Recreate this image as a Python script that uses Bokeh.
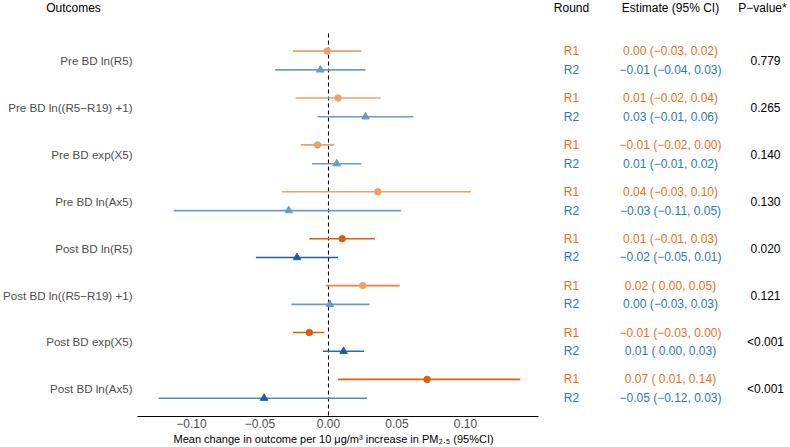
from bokeh.plotting import figure
from bokeh.models import Range1d, FixedTicker, ColumnDataSource, Title
from bokeh.core.properties import value
from bokeh.embed import file_html
from bokeh.resources import INLINE

# ---------------- data ----------------
outcomes = ["Pre BD ln(R5)", "Pre BD ln((R5\u2212R19) +1)", "Pre BD exp(X5)", "Pre BD ln(Ax5)",
            "Post BD ln(R5)", "Post BD ln((R5\u2212R19) +1)", "Post BD exp(X5)", "Post BD ln(Ax5)"]
r1_est = [-0.001, 0.007, -0.008, 0.036, 0.010, 0.025, -0.014, 0.072]
r1_lo = [-0.026, -0.024, -0.020, -0.034, -0.014, -0.002, -0.026, 0.007]
r1_hi = [0.024, 0.038, 0.004, 0.104, 0.034, 0.052, -0.003, 0.140]
r2_est = [-0.006, 0.027, 0.006, -0.029, -0.023, 0.001, 0.011, -0.047]
r2_lo = [-0.039, -0.008, -0.012, -0.113, -0.053, -0.027, -0.004, -0.124]
r2_hi = [0.027, 0.062, 0.024, 0.053, 0.007, 0.030, 0.026, 0.028]
r1_text = ["0.00 (\u22120.03, 0.02)", "0.01 (\u22120.02, 0.04)", "\u22120.01 (\u22120.02, 0.00)",
           "0.04 (\u22120.03, 0.10)", "0.01 (\u22120.01, 0.03)", "0.02 ( 0.00, 0.05)",
           "\u22120.01 (\u22120.03, 0.00)", "0.07 ( 0.01, 0.14)"]
r2_text = ["\u22120.01 (\u22120.04, 0.03)", "0.03 (\u22120.01, 0.06)", "0.01 (\u22120.01, 0.02)",
           "\u22120.03 (\u22120.11, 0.05)", "\u22120.02 (\u22120.05, 0.01)", "0.00 (\u22120.03, 0.03)",
           "0.01 ( 0.00, 0.03)", "\u22120.05 (\u22120.12, 0.03)"]
p_values = ["0.779", "0.265", "0.140", "0.130", "0.020", "0.121", "<0.001", "<0.001"]
round_labels = ["R1", "R2"]
headers = ["Round", "Estimate (95% CI)", "P\u2212value*"]
x_ticks = [-0.10, -0.05, 0.00, 0.05, 0.10]
x_tick_labels = ["\u22120.10", "\u22120.05", "0.00", "0.05", "0.10"]
x_title = "Mean change in outcome per 10 \u03bcg/m\u00b3 increase in  PM\u2082.\u2085 (95%CI)"

# ---------------- styles ----------------
FONT = "Liberation Sans"
FS = "12px"
LAB_FS = "11.6px"
ORANGE_TXT = "#E8701A"
BLUE_TXT = "#2A78B8"
light_or, dark_or = "#EFA066", "#D9600F"
light_bl, mid_bl, dark_bl = "#6A9CC8", "#4C8CC2", "#1F5E9C"
r1_line = [light_or] * 4 + [dark_or, "#E8843E", dark_or, dark_or]
r1_pt = [light_or] * 4 + [dark_or, light_or, dark_or, dark_or]
r2_line = [light_bl] * 4 + [dark_bl, light_bl, "#2E6CA8", mid_bl]
r2_pt = [light_bl] * 4 + [dark_bl, light_bl, dark_bl, dark_bl]

# ---------------- layout geometry (pixel grid 790x447) ----------------
W, H = 790, 447
bottom_border = 31
frame_h = H - bottom_border
ZERO_PX, PX_PER_UNIT = 328, 1370          # x = 0 position and scale in px
x_lo = -ZERO_PX / PX_PER_UNIT
x_hi = (W - ZERO_PX) / PX_PER_UNIT
panel_lo = (137 - ZERO_PX) / PX_PER_UNIT   # panel edges of the forest part
panel_hi = (538 - ZERO_PX) / PX_PER_UNIT


def px_x(px):
    return (px - ZERO_PX) / PX_PER_UNIT


unit = 46.9                                  # px per outcome group
g0 = 60                                      # y of first group centre


def px_y(py):
    return (g0 - py) / unit


y_top = px_y(0)
y_bot = px_y(frame_h)
y_panel_top = px_y(33)
header_y = px_y(7)
off = 0.2

n = len(outcomes)
gy = [-i for i in range(n)]
y1 = [g + off for g in gy]
y2 = [g - off for g in gy]

p = figure(width=W, height=H, x_range=Range1d(x_lo, x_hi), y_range=Range1d(y_bot, y_top),
           output_backend="svg", toolbar_location=None,
           x_axis_location="below", y_axis_location=None,
           min_border_left=0, min_border_right=0, min_border_top=0,
           min_border_bottom=bottom_border)
p.outline_line_color = None
p.grid.visible = False

# reference line at zero (dashed), only across the forest panel
p.segment(x0=[0], x1=[0], y0=[y_panel_top], y1=[y_bot], line_color="black",
          line_width=1.1, line_dash="4 3")

s1 = ColumnDataSource(dict(y=y1, est=r1_est, lo=r1_lo, hi=r1_hi, lc=r1_line, pc=r1_pt))
s2 = ColumnDataSource(dict(y=y2, est=r2_est, lo=r2_lo, hi=r2_hi, lc=r2_line, pc=r2_pt))
p.segment(x0="lo", x1="hi", y0="y", y1="y", source=s1, line_color="lc", line_width=1.6)
p.segment(x0="lo", x1="hi", y0="y", y1="y", source=s2, line_color="lc", line_width=1.6)
p.scatter(x="est", y="y", source=s1, marker="circle", size=6.5, fill_color="pc", line_color="pc")
p.scatter(x="est", y="y", source=s2, marker="triangle", size=7.5, fill_color="pc", line_color="pc")

ax = p.xaxis[0]
ax.bounds = (panel_lo, panel_hi)
ax.ticker = FixedTicker(ticks=x_ticks)
ax.major_label_overrides = {t: l for t, l in zip(x_ticks, x_tick_labels)}
ax.major_tick_line_color = None
ax.minor_tick_line_color = None
ax.major_tick_out = 0
ax.major_tick_in = 0
ax.major_label_standoff = 2
ax.axis_line_color = "black"
ax.axis_line_width = 1.2
ax.major_label_text_font = FONT
ax.major_label_text_font_size = FS
ax.major_label_text_color = "#4D4D4D"

# x-axis title, placed under the forest panel
p.add_layout(Title(text=x_title, align="left", offset=173, standoff=0,
                   text_font=FONT, text_font_size="11px", text_font_style="normal",
                   text_color="black"), "below")

txt = dict(text_baseline="middle", text_font=value(FONT), text_font_size=FS)

# outcome labels (left)
lab_src = ColumnDataSource(dict(x=[px_x(132)] * n, y=gy, t=outcomes))
p.text(x="x", y="y", text="t", source=lab_src, text_align="right", text_color="#4D4D4D",
       text_baseline="middle", text_font=value(FONT), text_font_size=LAB_FS)

# header row
col_round, col_est, col_p = px_x(571), px_x(670), px_x(765)
p.text(x=[px_x(73), col_round, col_est, px_x(762)], y=[header_y] * 4,
       text=["Outcomes"] + headers, text_align="center", text_color="black", **txt)

# table
t1 = ColumnDataSource(dict(y=y1, r=[round_labels[0]] * n, e=r1_text))
t2 = ColumnDataSource(dict(y=y2, r=[round_labels[1]] * n, e=r2_text))
for src, col in ((t1, ORANGE_TXT), (t2, BLUE_TXT)):
    p.text(x=col_round, y="y", text="r", source=src, text_align="center", text_color=col, **txt)
    p.text(x=col_est, y="y", text="e", source=src, text_align="center", text_color=col, **txt)
tp = ColumnDataSource(dict(y=gy, t=p_values))
p.text(x=col_p, y="y", text="t", source=tp, text_align="center", text_color="black", **txt)

open("out.html", "w").write(file_html(p, INLINE))
